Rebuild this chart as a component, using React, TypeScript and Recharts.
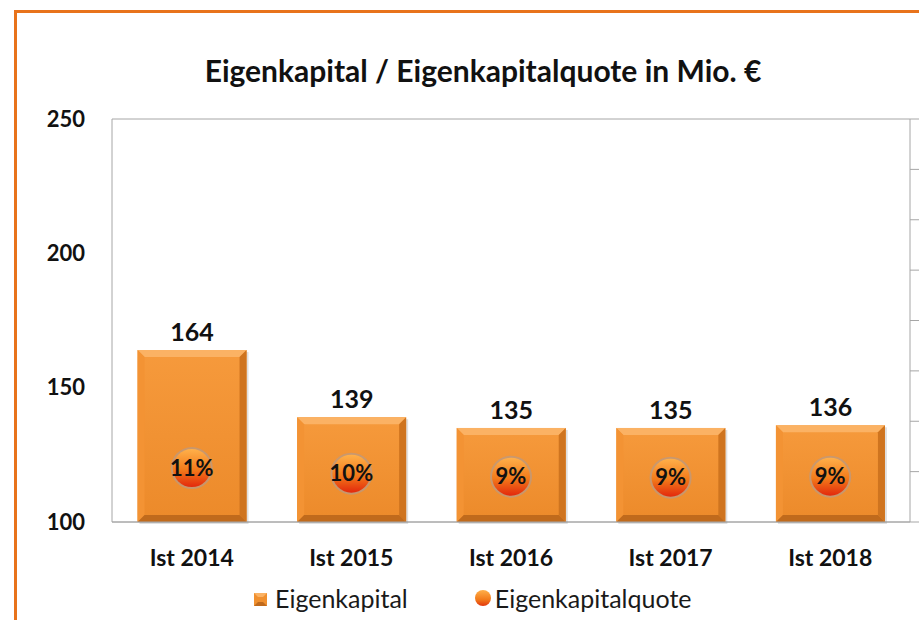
import React from "react";
import {
  ComposedChart,
  Bar,
  Line,
  XAxis,
  YAxis,
  CartesianGrid,
  LabelList,
} from "recharts";

// values
const years = ["Ist 2014", "Ist 2015", "Ist 2016", "Ist 2017", "Ist 2018"];
const eigenkapital = [164, 139, 135, 135, 136];
const quote = [0.107, 0.096, 0.09, 0.088, 0.09];
const leftTicks = [100, 150, 200, 250];
const rightTicks = [0, 0.1, 0.2, 0.3, 0.4, 0.5, 0.6, 0.7, 0.8];

const data = years.map((year, i) => ({
  year,
  eigenkapital: eigenkapital[i],
  quote: quote[i],
}));

const FONT = "Lato, 'Open Sans', sans-serif";

// bar with a bevelled look like the Excel original
const BevelBar = (props: any) => {
  const { x, y, width: w, height: h } = props;
  if (!w || !h) return null;
  const b = 7;
  return (
    <g>
      <rect x={x + 2} y={y + 2} width={w} height={h} fill="#000" opacity={0.12} />
      <rect x={x} y={y} width={w} height={h} fill="url(#barBody)" />
      <polygon
        points={`${x},${y} ${x + w},${y} ${x + w - b},${y + b} ${x + b},${y + b}`}
        fill="#FBB264"
      />
      <polygon
        points={`${x},${y} ${x + b},${y + b} ${x + b},${y + h - b} ${x},${y + h}`}
        fill="#F39334"
      />
      <polygon
        points={`${x + w},${y} ${x + w},${y + h} ${x + w - b},${y + h - b} ${x + w - b},${y + b}`}
        fill="#CF741F"
      />
      <polygon
        points={`${x},${y + h} ${x + b},${y + h - b} ${x + w - b},${y + h - b} ${x + w},${y + h}`}
        fill="#C06A1C"
      />
    </g>
  );
};

const QuoteDot = (props: any) => {
  const { cx, cy, index } = props;
  if (cx == null || cy == null) return null;
  return (
    <g key={`dot-${index}`}>
      <circle cx={cx} cy={cy} r={21} fill="#B89A86" opacity={0.7} />
      <circle cx={cx} cy={cy} r={19} fill="url(#dotFill)" />
    </g>
  );
};

function Legend() {
  return (
    <div
      style={{
        position: "absolute",
        top: 583,
        left: 254,
        display: "flex",
        alignItems: "center",
        fontFamily: FONT,
        fontSize: 25,
        lineHeight: "30px",
        color: "#1a1a1a",
      }}
    >
      <svg width={14} height={14} style={{ marginRight: 7, marginTop: 3 }}>
        <rect x={0} y={0} width={13} height={13} fill="#F0902F" />
        <polygon points="0,0 13,0 9,4 4,4" fill="#FBB264" />
        <polygon points="0,13 4,9 9,9 13,13" fill="#C06A1C" />
      </svg>
      <span>Eigenkapital</span>
      <svg width={18} height={18} style={{ marginLeft: 66, marginRight: 3 }}>
        <circle cx={9} cy={9} r={8} fill="url(#dotFillLegend)" />
        <defs>
          <linearGradient id="dotFillLegend" x1="0" y1="0" x2="0" y2="1">
            <stop offset="0%" stopColor="#FFB04A" />
            <stop offset="60%" stopColor="#F27A1A" />
            <stop offset="100%" stopColor="#E2360E" />
          </linearGradient>
        </defs>
      </svg>
      <span>Eigenkapitalquote</span>
    </div>
  );
}

export default function App() {
  return (
    <div
      style={{
        position: "absolute",
        left: 0,
        top: 0,
        width: 919,
        height: 620,
        overflow: "hidden",
        background: "#fff",
      }}
    >
      {/* orange frame, only left and top visible */}
      <div
        style={{
          position: "absolute",
          left: 14,
          top: 10,
          width: 950,
          height: 700,
          borderLeft: "3px solid #E8731B",
          borderTop: "3px solid #E8731B",
        }}
      />
      <div
        style={{
          position: "absolute",
          top: 51,
          left: 112,
          width: 742,
          textAlign: "center",
          fontFamily: FONT,
          fontWeight: 700,
          fontSize: 30,
          lineHeight: "38px",
          color: "#111",
        }}
      >
        Eigenkapital / Eigenkapitalquote in Mio. €
      </div>
      <div style={{ position: "absolute", left: 0, top: 0 }}>
        <ComposedChart
          width={970}
          height={620}
          data={data}
          margin={{ top: 119, right: 0, left: 0, bottom: 48 }}
          barCategoryGap="16%"
        >
          <defs>
            <linearGradient id="barBody" x1="0" y1="0" x2="0" y2="1">
              <stop offset="0%" stopColor="#F69A3C" />
              <stop offset="100%" stopColor="#EC8A2A" />
            </linearGradient>
            <linearGradient id="dotFill" x1="0" y1="0" x2="0" y2="1">
              <stop offset="0%" stopColor="#FFB04A" />
              <stop offset="55%" stopColor="#F27A1A" />
              <stop offset="100%" stopColor="#E3280C" />
            </linearGradient>
          </defs>
          <CartesianGrid vertical={false} stroke="#A6A6A6" />
          <XAxis
            dataKey="year"
            axisLine={{ stroke: "#A6A6A6" }}
            tickLine={false}
            tickSize={0}
            tickMargin={28}
            height={50}
            tick={{ fontFamily: FONT, fontSize: 23, fontWeight: 700, fill: "#111" }}
          />
          <YAxis
            yAxisId="left"
            domain={[100, 250]}
            ticks={leftTicks}
            width={112}
            axisLine={{ stroke: "#A6A6A6" }}
            tickLine={false}
            tickSize={0}
            tickMargin={27}
            tick={{ fontFamily: FONT, fontSize: 22, fontWeight: 700, fill: "#111" }}
          />
          {/* secondary axis: only its line and tick marks are visible in the crop */}
          <YAxis
            yAxisId="right"
            orientation="right"
            domain={[0, 0.8]}
            ticks={rightTicks}
            width={60}
            axisLine={{ stroke: "#A6A6A6" }}
            tickLine={{ stroke: "#A6A6A6" }}
            tickSize={9}
            tick={() => <g />}
          />
          <Bar
            yAxisId="left"
            dataKey="eigenkapital"
            shape={<BevelBar />}
            isAnimationActive={false}
          >
            <LabelList
              dataKey="eigenkapital"
              position="top"
              offset={9}
              style={{ fontFamily: FONT, fontSize: 25, fontWeight: 700, fill: "#111" }}
            />
          </Bar>
          <Line
            yAxisId="right"
            dataKey="quote"
            stroke="none"
            dot={<QuoteDot />}
            activeDot={false}
            isAnimationActive={false}
          >
            <LabelList
              dataKey="quote"
              position="center"
              formatter={(v: any) => `${Math.round(Number(v) * 100)}%`}
              style={{ fontFamily: FONT, fontSize: 22, fontWeight: 700, fill: "#111" }}
            />
          </Line>
        </ComposedChart>
      </div>
      <Legend />
    </div>
  );
}
